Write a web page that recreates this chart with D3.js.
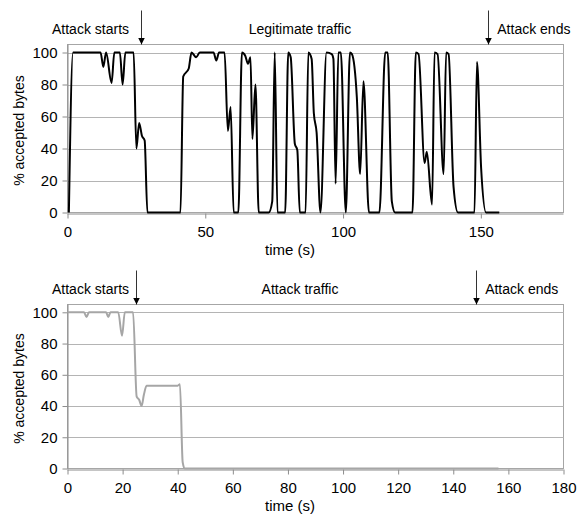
<!DOCTYPE html>
<html>
<head>
<meta charset="utf-8">
<script src="https://cdn.jsdelivr.net/npm/d3@7"></script>
<style>
  body { margin: 0; background: #fff; }
  svg { display: block; font-family: 'Liberation Sans', Arial, sans-serif; }
</style>
</head>
<body>
<svg id="chart" width="577" height="514"></svg>
<script>
'use strict';

// legitimate traffic (top panel)
var legitTime = [0.5, 2, 12, 13, 14, 16, 17, 19, 20, 21, 24, 25, 26, 27, 28, 29, 41, 42, 44, 45, 46.7, 48, 53, 54, 55, 57,
  58.2, 59.2, 60.3, 62, 63.3, 64.5, 65.5, 66.4, 67.1, 68.2, 69.4, 73, 74.3, 75.2, 76.2, 79, 80.1, 81, 82.5, 83.4, 84.3,
  86.4, 87.4, 88.6, 89.4, 90.4, 91.8, 94, 95.9, 96.5, 97.3, 98.3, 99.2, 101, 102.5, 103.2, 105, 106.2, 107.4, 109.4,
  113.2, 115.3, 116.2, 117.7, 118.9, 125.2, 126.4, 127.4, 129.6, 130.4, 132.3, 133.2, 134.3, 136.5, 137.4, 138.3,
  140.1, 141.7, 147.7, 148.6, 150.1, 151.9, 156.7];
var legitBytes = [0, 100, 100, 91, 100, 81, 100, 100, 80, 100, 100, 40, 56, 48, 45, 0, 0, 85, 90, 100, 97, 100, 100, 95, 100, 100,
  51, 66, 0, 0, 100, 98, 93, 97, 46, 80, 0, 0, 7, 100, 0, 0, 100, 97, 43, 39, 0,
  0, 100, 96, 62, 50, 0, 100, 99, 96, 18, 100, 100, 0, 100, 99, 72, 24, 82, 0,
  0, 100, 100, 7, 0, 0, 100, 99, 31, 38, 5, 100, 99, 24, 100, 99,
  16, 0, 0, 94, 28, 0, 0];

// attack traffic (bottom panel)
var attackTime = [0, 6, 6.9, 7.8, 14, 14.8, 15.6, 18.4, 19.8, 20.8, 23.8, 25.1, 26, 26.9, 27.7, 28.7, 40, 40.8, 41.8, 42.6, 156.4];
var attackBytes = [100, 100, 97, 100, 100, 97, 100, 100, 85, 100, 100, 46, 44, 40, 47, 53, 53, 54, 4, 0, 0];

var yTicks = [0, 20, 40, 60, 80, 100];
var topXTicks = [0, 50, 100, 150];
var bottomXTicks = [0, 20, 40, 60, 80, 100, 120, 140, 160, 180];

var panels = [
  {time: legitTime, bytes: legitBytes, color: '#000', xTicks: topXTicks, top: 44.5, bottom: 212.5,
    title: 'Legitimate traffic', arrows: [26.5, 152.7]},
  {time: attackTime, bytes: attackBytes, color: '#a6a6a6', xTicks: bottomXTicks, top: 304.5, bottom: 468.5,
    title: 'Attack traffic', arrows: [24.8, 148.3]}
];

var svg = d3.select('#chart');
var left = 67.5, right = 563.5;

svg.append('defs').append('marker').attr('id', 'arrow-head')
  .attr('viewBox', '0 0 10 10').attr('refX', '10').attr('refY', '5')
  .attr('markerWidth', '7').attr('markerHeight', '7').attr('markerUnits', 'userSpaceOnUse').attr('orient', 'auto')
  .append('path').attr('d', 'M0 0 L10 5 L0 10 Z').attr('fill', '#000');

panels.forEach(function(p) {
  var x = d3.scaleLinear().domain([0, 180]).range([left, right]);
  var y = d3.scaleLinear().domain([0, 105]).range([p.bottom, p.top]);
  var g = svg.append('g');

  // plot frame
  g.append('rect').attr('x', left).attr('y', p.top).attr('width', right - left).attr('height', p.bottom - p.top)
    .attr('fill', 'none').attr('stroke', '#a6a6a6').attr('stroke-width', 1);

  // gridlines
  g.selectAll('.grid').data(yTicks.slice(1)).enter().append('line')
    .attr('x1', left).attr('x2', right)
    .attr('y1', function(d) { return Math.round(y(d)) + 0.5; })
    .attr('y2', function(d) { return Math.round(y(d)) + 0.5; })
    .attr('stroke', '#b4b4b4').attr('stroke-width', 1);

  var yAxis = d3.axisLeft(y).tickValues(yTicks).tickSize(5).tickPadding(5);
  var ya = g.append('g').attr('transform', 'translate(' + left + ',0)').call(yAxis);
  ya.select('.domain').attr('stroke', '#8c8c8c').attr('d', 'M0.5,' + p.top + 'V' + p.bottom);

  var xAxis = d3.axisBottom(x).tickValues(p.xTicks).tickSize(5).tickPadding(8);
  var xa = g.append('g').attr('transform', 'translate(0,' + (Math.round(y(0)) + 0.5) + ')').call(xAxis);
  xa.select('.domain').attr('stroke', '#8c8c8c').attr('d', 'M' + left + ',0.5H' + right);

  g.selectAll('.tick line').attr('stroke', '#8c8c8c');
  g.selectAll('.tick text').attr('font-size', '15px').attr('fill', '#000')
    .attr('font-family', 'Liberation Sans, Arial, sans-serif');

  var line = d3.line()
    .x(function(d) { return x(d[0]); })
    .y(function(d) { return y(d[1]); })
    .curve(d3.curveMonotoneX);

  g.append('path').datum(d3.zip(p.time, p.bytes)).attr('d', line)
    .attr('fill', 'none').attr('stroke', p.color).attr('stroke-width', 2).attr('stroke-linejoin', 'round');

  // annotations
  var base = p.top - 10.5;
  g.append('text').attr('x', left - 15.5).attr('y', base).attr('font-size', '14px').text('Attack starts');
  g.append('text').attr('x', 300).attr('y', base).attr('text-anchor', 'middle').attr('font-size', '14px').text(p.title);
  g.append('text').attr('x', x(p.arrows[1]) + 9).attr('y', base).attr('font-size', '14px').text('Attack ends');

  g.selectAll('.arrow').data(p.arrows).enter().append('line')
    .attr('x1', function(d) { return Math.round(x(d)) + 0.5; })
    .attr('x2', function(d) { return Math.round(x(d)) + 0.5; })
    .attr('y1', p.top - 34).attr('y2', p.top)
    .attr('stroke', '#333').attr('stroke-width', 1).attr('marker-end', 'url(#arrow-head)');

  g.append('text').attr('x', 290).attr('y', p.bottom + 42).attr('text-anchor', 'middle')
    .attr('font-size', '15px').text('time (s)');

  var cy = (p.top + p.bottom) / 2 + 2;
  g.append('text').attr('transform', 'translate(24,' + cy + ') rotate(-90)').attr('text-anchor', 'middle')
    .attr('font-size', '14px').text('% accepted bytes');
});
</script>
</body>
</html>
